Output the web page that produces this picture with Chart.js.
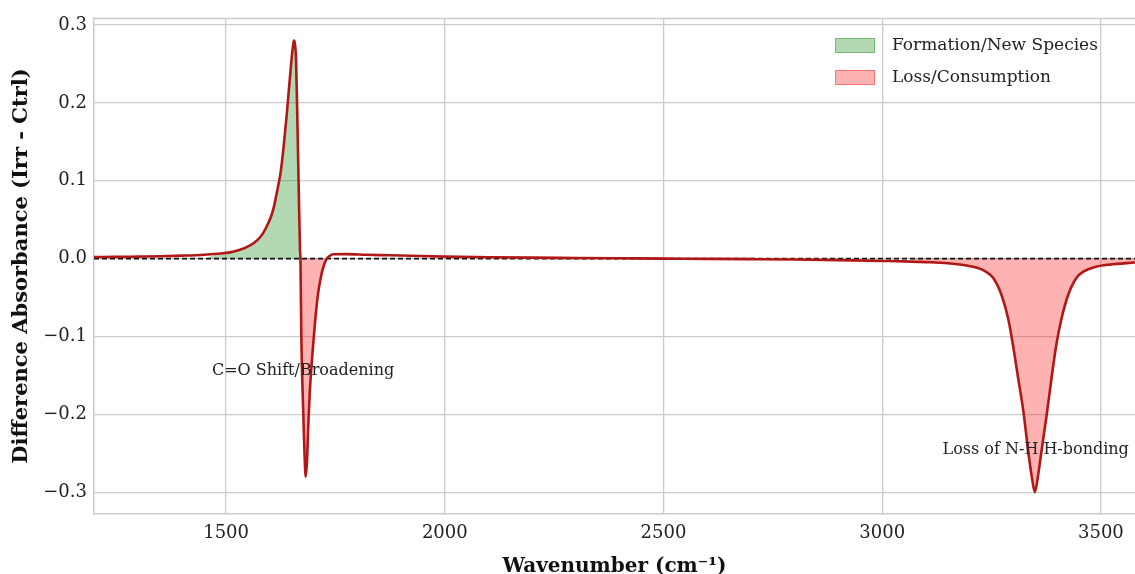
<!DOCTYPE html>
<html>
<head>
<meta charset="utf-8">
<script src="https://cdn.jsdelivr.net/npm/chart.js@4.4.1/dist/chart.umd.min.js"></script>
<style>
  html, body { margin: 0; padding: 0; background: #ffffff; }
  #wrap { width: 1135px; height: 574px; position: relative; }
</style>
</head>
<body>
<div id="wrap"><canvas id="c" width="1135" height="574"></canvas></div>
<script>
// ---- Data ----
const wavenumber = [1198,1250,1300,1350,1400,1450,1480,1509,1530,1555,1572,1585,1596,1604,1610,1615,1620,1625,1632,1638,1644,1650,1653,1655,1657,1660,1663,1666,1669,1670,1672,1676,1679,1682,1685,1688,1691,1695,1703,1710,1718,1724,1730,1737,1745,1775,1820,1852,1900,2000,2100,2200,2300,2400,2500,2600,2700,2800,2900,3000,3050,3100,3150,3190,3215,3235,3254,3273,3288,3299,3311,3323,3334,3342,3349,3356,3364,3377,3387,3398,3410,3425,3444,3462,3485,3520,3578];
const diffAbsorbance = [0.002,0.0022,0.0026,0.003,0.0038,0.005,0.0063,0.008,0.011,0.017,0.024,0.033,0.045,0.056,0.068,0.082,0.096,0.112,0.146,0.181,0.22,0.258,0.273,0.28,0.277,0.255,0.177,0.091,0.01,0,-0.1,-0.19,-0.245,-0.28,-0.26,-0.213,-0.175,-0.14,-0.084,-0.046,-0.02,-0.008,0,0.0035,0.0055,0.0058,0.005,0.0045,0.004,0.0025,0.0018,0.0012,0.0008,0.0004,0,-0.0003,-0.0007,-0.0012,-0.002,-0.003,-0.0035,-0.0045,-0.006,-0.0085,-0.0115,-0.016,-0.025,-0.047,-0.077,-0.111,-0.154,-0.197,-0.248,-0.28,-0.3,-0.28,-0.248,-0.197,-0.154,-0.111,-0.077,-0.047,-0.025,-0.016,-0.011,-0.0077,-0.005];
const xTicks = [1500, 2000, 2500, 3000, 3500];
const yTicks = [-0.3, -0.2, -0.1, 0.0, 0.1, 0.2, 0.3];
const seriesNames = ['Formation/New Species', 'Loss/Consumption'];
const annotationTexts = ['C=O Shift/Broadening', 'Loss of N-H H-bonding'];
const annotationX = [1676, 3351];
const annotationY = [-0.144, -0.246];

// ---- Styles ----
const GREEN_FILL = 'rgba(0,128,0,0.30)';
const RED_FILL = 'rgba(255,0,0,0.30)';
const LINE_COLOR = '#b01818';
const GRID = '#cccccc';
const SERIF = '"DejaVu Serif", serif';
const GREEN_MIN = 0.006, RED_MAX = -0.0035;

const linePts = wavenumber.map((x, i) => ({x, y: diffAbsorbance[i]}));
const posPts = wavenumber.map((x, i) => ({x, y: diffAbsorbance[i] > GREEN_MIN ? diffAbsorbance[i] : 0}));
const negPts = wavenumber.map((x, i) => ({x, y: diffAbsorbance[i] < RED_MAX ? diffAbsorbance[i] : 0}));
const zeroPts = [{x: wavenumber[0], y: 0}, {x: wavenumber[wavenumber.length - 1], y: 0}];

const overlay = {
  id: 'overlay',
  afterDraw(chart) {
    const {ctx, chartArea: ca, scales} = chart;
    ctx.save();
    ctx.strokeStyle = GRID; ctx.lineWidth = 1.5;
    ctx.beginPath(); ctx.moveTo(ca.left, ca.top + 0.5); ctx.lineTo(ca.right, ca.top + 0.5); ctx.stroke();
    ctx.font = '16px ' + SERIF;
    ctx.fillStyle = '#222222';
    ctx.textAlign = 'center'; ctx.textBaseline = 'middle';
    annotationTexts.forEach((t, i) => {
      ctx.fillText(t, scales.x.getPixelForValue(annotationX[i]), scales.y.getPixelForValue(annotationY[i]));
    });
    const fills = [GREEN_FILL, RED_FILL];
    const edges = ['rgba(0,128,0,0.35)', 'rgba(255,0,0,0.35)'];
    ctx.font = '17px ' + SERIF;
    ctx.textAlign = 'left';
    seriesNames.forEach((name, i) => {
      const bx = ca.right - 300, by = ca.top + 20 + i * 32;
      ctx.fillStyle = fills[i];
      ctx.fillRect(bx, by, 40, 15);
      ctx.strokeStyle = edges[i]; ctx.lineWidth = 1;
      ctx.strokeRect(bx + 0.5, by + 0.5, 39, 14);
      ctx.fillStyle = '#222222';
      ctx.fillText(name, bx + 57, by + 8);
    });
    ctx.restore();
  }
};

new Chart(document.getElementById('c'), {
  type: 'line',
  data: {
    datasets: [
      { label: 'spectrum', data: linePts, borderColor: LINE_COLOR, borderWidth: 2.6, borderJoinStyle: 'round', borderCapStyle: 'round', pointRadius: 0, fill: false, cubicInterpolationMode: 'monotone', order: 0 },
      { label: 'zero', data: zeroPts, borderColor: '#111111', borderWidth: 1.6, borderDash: [5, 3], pointRadius: 0, fill: false, order: 1 },
      { label: seriesNames[0], data: posPts, borderWidth: 0, borderColor: 'rgba(0,0,0,0)', backgroundColor: GREEN_FILL, pointRadius: 0, fill: 'origin', cubicInterpolationMode: 'monotone', order: 2 },
      { label: seriesNames[1], data: negPts, borderWidth: 0, borderColor: 'rgba(0,0,0,0)', backgroundColor: RED_FILL, pointRadius: 0, fill: 'origin', cubicInterpolationMode: 'monotone', order: 3 }
    ]
  },
  options: {
    responsive: false,
    animation: false,
    events: [],
    layout: { padding: { top: 18, right: 0, left: 0, bottom: 0 } },
    plugins: { legend: { display: false }, tooltip: { enabled: false } },
    scales: {
      x: {
        type: 'linear', min: 1198, max: 3578,
        afterBuildTicks: s => { s.ticks = xTicks.map(v => ({value: v})); },
        afterFit: s => { s.height = 60; },
        grid: { color: GRID, lineWidth: 1.3, drawTicks: false },
        border: { display: true, color: GRID, width: 1.5 },
        ticks: { padding: 9, color: '#222222', font: { family: SERIF, size: 18 }, maxRotation: 0, callback: v => String(v) },
        title: { display: true, text: 'Wavenumber (cm\u207B\u00B9)', color: '#111111', font: { family: SERIF, size: 20, weight: 'bold', lineHeight: 1 }, padding: { top: 0, bottom: -3 } }
      },
      y: {
        type: 'linear', min: -0.328, max: 0.309,
        afterBuildTicks: s => { s.ticks = yTicks.map(v => ({value: v})); },
        afterFit: s => { s.width = 94; },
        grid: { color: GRID, lineWidth: 1.3, drawTicks: false },
        border: { display: true, color: GRID, width: 1.5 },
        ticks: { padding: 7, color: '#222222', font: { family: SERIF, size: 18 }, callback: v => (v < 0 ? '\u2212' : '') + Math.abs(v).toFixed(1) },
        title: { display: true, text: 'Difference Absorbance (Irr - Ctrl)', color: '#111111', font: { family: SERIF, size: 21, weight: 'bold', lineHeight: 1.2 }, padding: { top: 9, bottom: 0 } }
      }
    }
  },
  plugins: [overlay]
});
</script>
</body>
</html>
